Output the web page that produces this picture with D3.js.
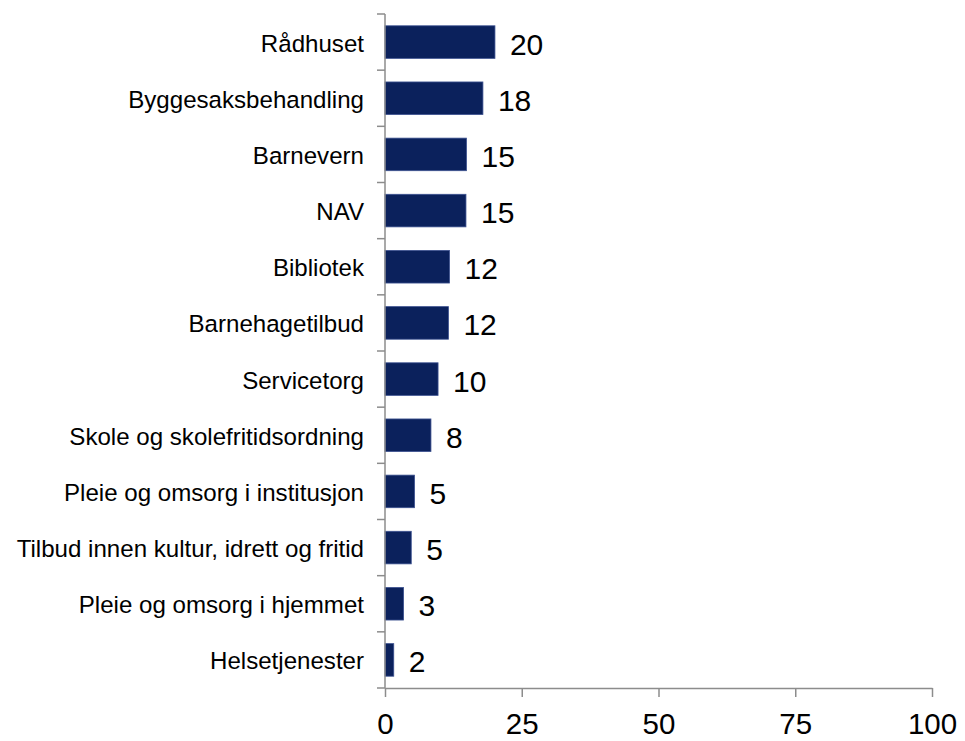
<!DOCTYPE html>
<html>
<head>
<meta charset="utf-8">
<script src="https://cdn.jsdelivr.net/npm/d3@7"></script>
<style>
  html, body { margin: 0; padding: 0; background: #ffffff; }
  svg { display: block; font-family: "Liberation Sans", Arial, sans-serif; }
</style>
</head>
<body>
<svg id="chart" width="965" height="741"></svg>
<script>
const categories = [
  "Rådhuset",
  "Byggesaksbehandling",
  "Barnevern",
  "NAV",
  "Bibliotek",
  "Barnehagetilbud",
  "Servicetorg",
  "Skole og skolefritidsordning",
  "Pleie og omsorg i institusjon",
  "Tilbud innen kultur, idrett og fritid",
  "Pleie og omsorg i hjemmet",
  "Helsetjenester"
];
const values = [20.1, 17.9, 14.9, 14.8, 11.8, 11.6, 9.7, 8.4, 5.4, 4.8, 3.4, 1.6];
const xTicks = [0, 25, 50, 75, 100];

(function () {
const svg = d3.select("#chart");
const plotLeft = 385, plotRight = 932, plotTop = 14, plotBottom = 688;

const x = d3.scaleLinear().domain([0, 100]).range([plotLeft, plotRight]);
const y = d3.scaleBand().domain(categories).range([plotTop, plotBottom])
  .paddingInner(0.42).paddingOuter(0.21);

const axisColor = "#8c8c8c";
const data = categories.map((c, i) => ({ c, v: values[i] }));

// bars
svg.append("g").selectAll("rect").data(data).join("rect")
  .attr("x", x(0))
  .attr("y", d => y(d.c))
  .attr("width", d => x(d.v) - x(0))
  .attr("height", y.bandwidth())
  .attr("fill", "#0b215c")
  .attr("stroke", "#3c5190")
  .attr("stroke-width", 0.8);

// value labels
const fmt = d3.format(".0f");
svg.append("g").selectAll("text").data(data).join("text")
  .attr("x", d => x(d.v) + 15)
  .attr("y", d => y(d.c) + y.bandwidth() / 2 + 12.5)
  .attr("font-size", 30)
  .attr("fill", "#000")
  .text(d => fmt(d.v));

// category labels
svg.append("g").selectAll("text").data(data).join("text")
  .attr("x", 364)
  .attr("y", d => y(d.c) + y.bandwidth() / 2 + 9.5)
  .attr("text-anchor", "end")
  .attr("font-size", 24.1)
  .attr("fill", "#000")
  .text(d => d.c);

// y axis line + ticks at band boundaries
const step = y.step();
const boundaries = categories.map(c => y(c) - step * y.paddingInner() / 2)
  .concat([plotBottom]);
const yAxis = svg.append("g");
yAxis.append("line")
  .attr("x1", x(0)).attr("x2", x(0))
  .attr("y1", plotTop).attr("y2", plotBottom)
  .attr("stroke", axisColor).attr("stroke-width", 1.5);
yAxis.selectAll("line.tick").data(boundaries).join("line")
  .attr("class", "tick")
  .attr("x1", x(0) - 8).attr("x2", x(0))
  .attr("y1", d => d).attr("y2", d => d)
  .attr("stroke", axisColor).attr("stroke-width", 1.5);

// x axis
const xAxis = svg.append("g")
  .attr("transform", `translate(0,${plotBottom})`)
  .call(d3.axisBottom(x).tickValues(xTicks).tickSize(9).tickSizeOuter(0).tickPadding(20));
xAxis.select(".domain").attr("stroke", axisColor).attr("stroke-width", 1.5);
xAxis.selectAll(".tick line").attr("stroke", axisColor).attr("stroke-width", 1.5);
xAxis.selectAll(".tick text")
  .attr("font-size", 29.5)
  .attr("font-family", "'Liberation Sans', Arial, sans-serif")
  .attr("fill", "#000")
  .attr("dy", null)
  .attr("y", 46);
})();
</script>
</body>
</html>
